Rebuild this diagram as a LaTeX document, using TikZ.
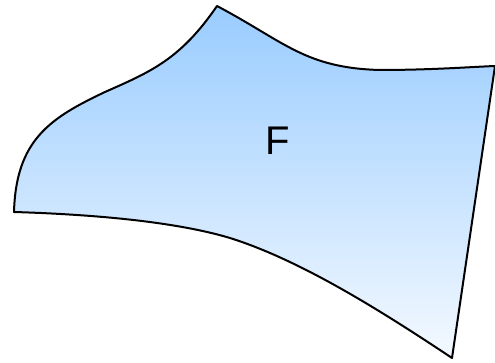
\documentclass[tikz,border=0pt]{standalone}
\usepackage{fontspec}
\setmainfont{Liberation Sans}
\definecolor{regTop}{HTML}{99CCFF}
\definecolor{regBot}{HTML}{F4F9FF}
\tikzset{
  region/.style={draw=black, line width=2pt, line join=round, top color=regTop, bottom color=regBot},
  regionlabel/.style={font=\fontsize{40}{40}\selectfont, inner sep=0pt}
}
\begin{document}
\begin{tikzpicture}[x=1pt,y=-1pt]
\useasboundingbox (0,0) rectangle (495,363);

% --- REGION F ---
\path[region]
  (14,212) .. controls (16,140) and (50,118) .. (105,92)
  .. controls (150,72) and (180,60) .. (217,6)
  .. controls (285,42) and (305,68) .. (380,70)
  .. controls (430,70) and (470,67) .. (495,66)
  -- (452,358)
  .. controls (380,310) and (300,260) .. (230,238)
  .. controls (170,220) and (80,214) .. (14,212) -- cycle;

% --- LABEL ---
\node[regionlabel] (F) at (278,141) {F};

\end{tikzpicture}
\end{document}
